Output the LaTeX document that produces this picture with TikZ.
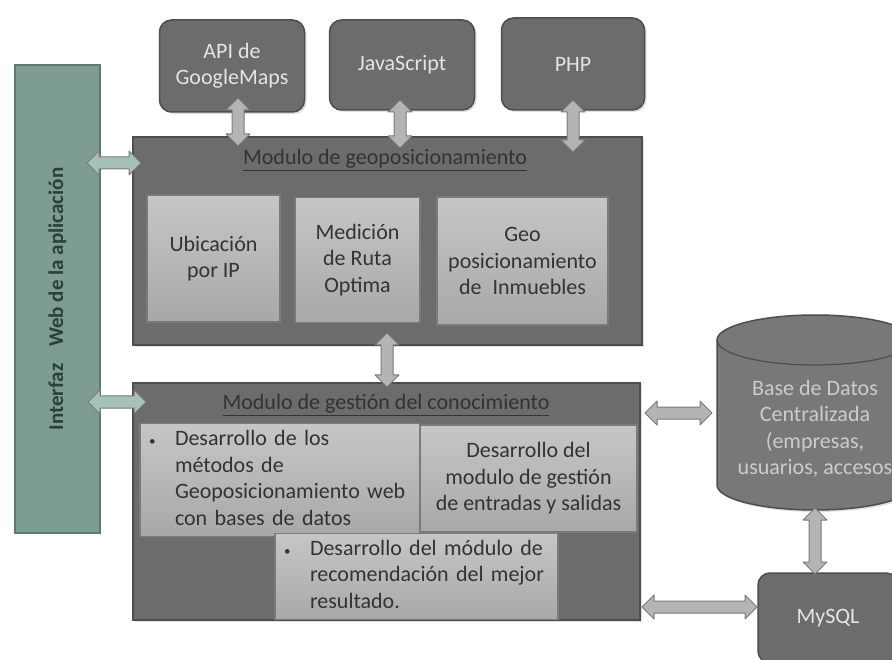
\documentclass[tikz,border=0pt]{standalone}
\usepackage{fontspec}
\setmainfont{Carlito}
\usetikzlibrary{calc,shadows}
\definecolor{darkbox}{HTML}{6C6C6C}
\definecolor{darkedge}{HTML}{4E4E4E}
\definecolor{lighttop}{HTML}{C6C6C6}
\definecolor{lightbot}{HTML}{A8A8A8}
\definecolor{lightedge}{HTML}{7A7A7A}
\definecolor{tealbar}{HTML}{7D9C92}
\definecolor{tealedge}{HTML}{5E7A70}
\definecolor{tealtext}{HTML}{2A413A}
\definecolor{arrowfill}{HTML}{B4B4B4}
\definecolor{arrowteal}{HTML}{A6C2B8}
\definecolor{arrowedge}{HTML}{7A7A7A}
\definecolor{innertext}{HTML}{333333}
\definecolor{toptext}{HTML}{E4E4E4}
\definecolor{cylfill}{HTML}{787878}
\tikzset{
  bigfont/.style={font=\fontsize{22pt}{26.5pt}\selectfont},
  topbox/.style={bigfont, draw=darkedge, fill=darkbox, line width=1.5pt,
    rounded corners=12pt, text=toptext, align=center,
    drop shadow={opacity=0.25, shadow xshift=2pt, shadow yshift=-2pt}},
  modbox/.style={draw=darkedge, fill=darkbox, line width=2.5pt,
    drop shadow={opacity=0.25, shadow xshift=2pt, shadow yshift=-2pt}},
  innerbox/.style={bigfont, draw=lightedge, line width=1.2pt,
    top color=lighttop, bottom color=lightbot, text=innertext, align=center},
  bulletbox/.style={innerbox, align=left, inner xsep=9pt},
  titletext/.style={bigfont, text=innertext},
  barbox/.style={draw=tealedge, fill=tealbar, line width=1.5pt,
    font=\fontsize{21pt}{25pt}\selectfont\bfseries, text=tealtext},
  dbtext/.style={bigfont, text=toptext!80!darkbox, align=center},
  arrowstyle/.style={draw=arrowedge, line width=1pt, fill=arrowfill, line join=round},
  tealarrow/.style={fill=arrowteal},
}
\newcommand\blockarrow[3][]{%
  \path[arrowstyle,#1] (#2)
    -- ($(#2)!12pt!(#3)!12pt!90:(#3)$)
    -- ($(#2)!12pt!(#3)!6pt!90:(#3)$)
    -- ($(#3)!12pt!(#2)!6pt!-90:(#2)$)
    -- ($(#3)!12pt!(#2)!12pt!-90:(#2)$)
    -- (#3)
    -- ($(#3)!12pt!(#2)!12pt!90:(#2)$)
    -- ($(#3)!12pt!(#2)!6pt!90:(#2)$)
    -- ($(#2)!12pt!(#3)!6pt!-90:(#3)$)
    -- ($(#2)!12pt!(#3)!12pt!-90:(#3)$)
    -- cycle;}
\newcommand\bul{\fontsize{13pt}{13pt}\selectfont\textbullet}
\begin{document}
\begin{tikzpicture}[x=1pt,y=-1pt]
\useasboundingbox (0,0) rectangle (892,660);
\fill[white] (0,0) rectangle (892,660);
\clip (0,0) rectangle (892,660);

% left bar
\node[barbox, rotate=90, minimum width=468pt, minimum height=85pt] (bar) at (57.5,299)
  {Interfaz\hspace{12pt} Web de la aplicación};

% top technology boxes
\node[topbox, minimum width=145pt, minimum height=92pt] (gm) at (232,66) {API de\\GoogleMaps};
\node[topbox, minimum width=145pt, minimum height=90pt] (js) at (402,65) {JavaScript};
\node[topbox, minimum width=143pt, minimum height=92pt] (php) at (573,64) {PHP};

% geoposition module
\node[modbox, minimum width=509pt, minimum height=208pt] (geo) at (387.5,241) {};
\node[titletext] (geotitle) at (385,160) {\underline{Modulo de geoposicionamiento}};
\node[innerbox, minimum width=133pt, minimum height=127pt] (ubic) at (213.5,258.5) {Ubicación\\por IP};
\node[innerbox, minimum width=125pt, minimum height=125pt] (med) at (357.5,260) {Medición\\de Ruta\\Optima};
\node[innerbox, minimum width=171pt, minimum height=128pt] (inm) at (522.5,261) {Geo\\posicionamiento\\de\enspace Inmuebles};

% knowledge management module
\node[modbox, minimum width=507pt, minimum height=237pt] (gest) at (386.5,501.5) {};
\node[titletext] (gesttitle) at (386,405) {\underline{Modulo de gestión del conocimiento}};
\node[bulletbox, minimum width=280pt, minimum height=106pt, text width=262pt] (met) at (280,480)
  {\begin{tabular}{@{}p{26pt}@{}l@{}}
   \bul & Desarrollo de los\\
        & métodos de\\
        & Geoposicionamiento web\\
        & con bases de datos
   \end{tabular}};
\node[innerbox, minimum width=217pt, minimum height=107pt] (es) at (528.5,478.5)
  {Desarrollo del\\modulo de gestión\\de entradas y salidas};
\node[bulletbox, minimum width=283pt, minimum height=83pt, text width=265pt] (rec) at (416.5,576.5)
  {\begin{tabular}{@{}p{26pt}@{}l@{}}
   \bul & Desarrollo del módulo de\\
        & recomendación del mejor\\
        & resultado.
   \end{tabular}};

% database cylinder
\path[draw=darkedge, line width=1.5pt, fill=cylfill,
  drop shadow={opacity=0.25, shadow xshift=2pt, shadow yshift=-2pt}]
  (717,340) -- (717,485) arc[start angle=180, end angle=0, x radius=98, y radius=25]
  -- (913,340) arc[start angle=0, end angle=-180, x radius=98, y radius=25] -- cycle;
\draw[darkedge, line width=1.2pt] (717,340) arc[start angle=180, end angle=0, x radius=98, y radius=25];
\node[dbtext] (db) at (815,429) {Base de Datos\\Centralizada\\(empresas,\\usuarios, accesos};

% MySQL
\node[topbox, minimum width=140pt, minimum height=90pt] (mysql) at (828,618) {MySQL};

% arrow end points
\coordinate (a1s) at (238,98);  \coordinate (a1e) at (238,146);
\coordinate (a2s) at (400,100); \coordinate (a2e) at (400,148);
\coordinate (a3s) at (573,100); \coordinate (a3e) at (573,152);
\coordinate (a4s) at (87,163);  \coordinate (a4e) at (141,163);
\coordinate (a5s) at (387,333); \coordinate (a5e) at (387,387);
\coordinate (a6s) at (88,402);  \coordinate (a6e) at (146,402);
\coordinate (a7s) at (645,413); \coordinate (a7e) at (712,413);
\coordinate (a8s) at (642,607); \coordinate (a8e) at (757,607);
\coordinate (a9s) at (815,508); \coordinate (a9e) at (815,574);

\blockarrow{a1s}{a1e}
\blockarrow{a2s}{a2e}
\blockarrow{a3s}{a3e}
\blockarrow[tealarrow]{a4s}{a4e}
\blockarrow{a5s}{a5e}
\blockarrow[tealarrow]{a6s}{a6e}
\blockarrow{a7s}{a7e}
\blockarrow{a8s}{a8e}
\blockarrow{a9s}{a9e}
\end{tikzpicture}
\end{document}
